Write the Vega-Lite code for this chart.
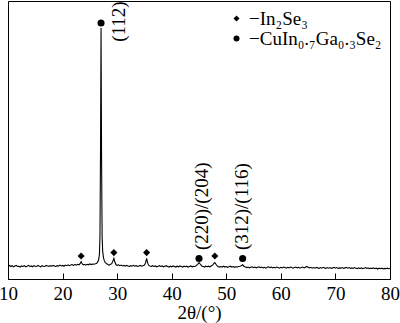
{
  "$schema": "https://vega.github.io/schema/vega-lite/v6.json",
  "width": 382,
  "height": 278,
  "autosize": {"type": "none"},
  "padding": {"left": 8, "top": 1, "right": 10, "bottom": 44},
  "background": "white",
  "config": {
    "view": {"stroke": "black", "strokeWidth": 1},
    "font": "Liberation Serif"
  },
  "datasets": {
    "pattern": [
      {"x":10.0,"y":4.6},{"x":10.25,"y":4.9},{"x":10.5,"y":4.5},{"x":10.75,"y":4.8},{"x":11.0,"y":4.4},{"x":11.25,"y":4.7},{"x":11.5,"y":4.9},{"x":11.75,"y":4.5},
      {"x":12.0,"y":4.6},{"x":12.25,"y":4.3},{"x":12.5,"y":4.7},{"x":12.75,"y":4.5},{"x":13.0,"y":4.8},{"x":13.25,"y":4.4},{"x":13.5,"y":4.6},{"x":13.75,"y":4.9},
      {"x":14.0,"y":4.5},{"x":14.25,"y":4.7},{"x":14.5,"y":4.4},{"x":14.75,"y":4.8},{"x":15.0,"y":4.6},{"x":15.25,"y":4.5},{"x":15.5,"y":4.9},{"x":15.75,"y":4.6},
      {"x":16.0,"y":4.4},{"x":16.25,"y":4.8},{"x":16.5,"y":4.6},{"x":16.75,"y":4.5},{"x":17.0,"y":4.9},{"x":17.25,"y":4.7},{"x":17.5,"y":4.5},{"x":17.75,"y":4.8},
      {"x":18.0,"y":4.6},{"x":18.25,"y":4.9},{"x":18.5,"y":4.7},{"x":18.75,"y":4.5},{"x":19.0,"y":4.8},{"x":19.25,"y":4.6},{"x":19.5,"y":5.0},{"x":19.75,"y":4.7},
      {"x":20.0,"y":4.9},{"x":20.25,"y":4.6},{"x":20.5,"y":5.0},{"x":20.75,"y":4.8},{"x":21.0,"y":5.1},{"x":21.25,"y":4.8},{"x":21.5,"y":5.0},{"x":21.75,"y":5.2},
      {"x":22.0,"y":4.9},{"x":22.25,"y":5.2},{"x":22.5,"y":5.0},{"x":22.75,"y":5.3},{"x":23.0,"y":5.1},{"x":23.2,"y":5.5},{"x":23.4,"y":6.2},{"x":23.6,"y":5.4},
      {"x":23.8,"y":5.1},{"x":24.0,"y":5.3},{"x":24.25,"y":5.0},{"x":24.5,"y":5.3},{"x":24.75,"y":5.1},{"x":25.0,"y":5.4},{"x":25.25,"y":5.2},{"x":25.5,"y":5.4},
      {"x":25.75,"y":5.3},{"x":26.0,"y":5.5},{"x":26.2,"y":5.6},{"x":26.4,"y":6.0},{"x":26.6,"y":6.8},{"x":26.75,"y":8.8},{"x":26.85,"y":15},{"x":26.95,"y":45},
      {"x":27.05,"y":90.3},{"x":27.15,"y":42},{"x":27.25,"y":15},{"x":27.35,"y":10},{"x":27.5,"y":7.6},{"x":27.65,"y":6.6},{"x":27.8,"y":6.0},{"x":28.0,"y":5.6},
      {"x":28.25,"y":5.3},{"x":28.5,"y":5.0},{"x":28.75,"y":5.2},{"x":29.0,"y":5.5},{"x":29.2,"y":6.3},{"x":29.4,"y":7.4},{"x":29.6,"y":6.0},{"x":29.8,"y":5.1},
      {"x":30.0,"y":4.9},{"x":30.25,"y":5.1},{"x":30.5,"y":4.8},{"x":30.75,"y":5.0},{"x":31.0,"y":4.7},{"x":31.25,"y":4.9},{"x":31.5,"y":4.6},{"x":31.75,"y":4.9},
      {"x":32.0,"y":4.7},{"x":32.25,"y":4.5},{"x":32.5,"y":4.8},{"x":32.75,"y":4.6},{"x":33.0,"y":4.9},{"x":33.25,"y":4.6},{"x":33.5,"y":4.8},{"x":33.75,"y":4.5},
      {"x":34.0,"y":4.7},{"x":34.25,"y":4.9},{"x":34.5,"y":4.6},{"x":34.75,"y":4.8},{"x":35.0,"y":5.0},{"x":35.2,"y":5.8},{"x":35.4,"y":7.4},{"x":35.6,"y":5.7},
      {"x":35.8,"y":4.9},{"x":36.0,"y":4.7},{"x":36.25,"y":4.5},{"x":36.5,"y":4.8},{"x":36.75,"y":4.5},{"x":37.0,"y":4.7},{"x":37.25,"y":4.4},{"x":37.5,"y":4.6},
      {"x":37.75,"y":4.8},{"x":38.0,"y":4.5},{"x":38.25,"y":4.7},{"x":38.5,"y":4.4},{"x":38.75,"y":4.6},{"x":39.0,"y":4.8},{"x":39.25,"y":4.5},{"x":39.5,"y":4.3},
      {"x":39.75,"y":4.6},{"x":40.0,"y":4.4},{"x":40.25,"y":4.7},{"x":40.5,"y":4.5},{"x":40.75,"y":4.3},{"x":41.0,"y":4.6},{"x":41.25,"y":4.4},{"x":41.5,"y":4.7},
      {"x":41.75,"y":4.5},{"x":42.0,"y":4.3},{"x":42.25,"y":4.6},{"x":42.5,"y":4.4},{"x":42.75,"y":4.6},{"x":43.0,"y":4.3},{"x":43.25,"y":4.5},{"x":43.5,"y":4.7},
      {"x":43.75,"y":4.4},{"x":44.0,"y":4.6},{"x":44.25,"y":4.5},{"x":44.5,"y":4.8},{"x":44.75,"y":5.3},{"x":45.0,"y":5.9},{"x":45.25,"y":5.3},{"x":45.5,"y":4.7},
      {"x":45.75,"y":4.5},{"x":46.0,"y":4.3},{"x":46.25,"y":4.6},{"x":46.5,"y":4.4},{"x":46.75,"y":4.6},{"x":47.0,"y":4.4},{"x":47.25,"y":4.7},{"x":47.5,"y":5.0},
      {"x":47.7,"y":5.5},{"x":47.9,"y":5.9},{"x":48.1,"y":5.3},{"x":48.3,"y":4.8},{"x":48.5,"y":4.5},{"x":48.75,"y":4.3},{"x":49.0,"y":4.5},{"x":49.25,"y":4.3},
      {"x":49.5,"y":4.6},{"x":49.75,"y":4.3},{"x":50.0,"y":4.5},{"x":50.25,"y":4.2},{"x":50.5,"y":4.4},{"x":50.75,"y":4.6},{"x":51.0,"y":4.3},{"x":51.25,"y":4.5},
      {"x":51.5,"y":4.2},{"x":51.75,"y":4.4},{"x":52.0,"y":4.3},{"x":52.25,"y":4.5},{"x":52.5,"y":4.6},{"x":52.75,"y":4.8},{"x":53.0,"y":5.1},{"x":53.25,"y":4.6},
      {"x":53.5,"y":4.3},{"x":53.75,"y":4.1},{"x":54.0,"y":4.3},{"x":54.25,"y":4.0},{"x":54.5,"y":4.2},{"x":54.75,"y":4.4},{"x":55.0,"y":4.1},{"x":55.25,"y":4.3},
      {"x":55.5,"y":4.0},{"x":55.75,"y":4.2},{"x":56.0,"y":4.4},{"x":56.25,"y":4.1},{"x":56.5,"y":4.3},{"x":56.75,"y":4.0},{"x":57.0,"y":4.2},{"x":57.25,"y":3.9},
      {"x":57.5,"y":4.2},{"x":57.75,"y":4.4},{"x":58.0,"y":4.1},{"x":58.25,"y":4.3},{"x":58.5,"y":4.0},{"x":58.75,"y":4.2},{"x":59.0,"y":4.0},{"x":59.25,"y":4.3},
      {"x":59.5,"y":4.1},{"x":59.75,"y":3.9},{"x":60.0,"y":4.2},{"x":60.25,"y":4.0},{"x":60.5,"y":4.3},{"x":60.75,"y":4.1},{"x":61.0,"y":3.9},{"x":61.25,"y":4.2},
      {"x":61.5,"y":4.0},{"x":61.75,"y":4.3},{"x":62.0,"y":4.1},{"x":62.25,"y":3.9},{"x":62.5,"y":4.1},{"x":62.75,"y":4.3},{"x":63.0,"y":4.0},{"x":63.25,"y":4.2},
      {"x":63.5,"y":3.9},{"x":63.75,"y":4.1},{"x":64.0,"y":4.3},{"x":64.25,"y":4.0},{"x":64.5,"y":4.2},{"x":64.75,"y":4.5},{"x":65.0,"y":4.2},{"x":65.25,"y":4.0},
      {"x":65.5,"y":4.2},{"x":65.75,"y":3.9},{"x":66.0,"y":4.1},{"x":66.25,"y":3.9},{"x":66.5,"y":4.2},{"x":66.75,"y":4.0},{"x":67.0,"y":3.8},{"x":67.25,"y":4.1},
      {"x":67.5,"y":3.9},{"x":67.75,"y":4.2},{"x":68.0,"y":4.0},{"x":68.25,"y":3.8},{"x":68.5,"y":4.1},{"x":68.75,"y":3.9},{"x":69.0,"y":4.1},{"x":69.25,"y":3.8},
      {"x":69.5,"y":4.0},{"x":69.75,"y":4.2},{"x":70.0,"y":3.9},{"x":70.25,"y":4.1},{"x":70.5,"y":3.8},{"x":70.75,"y":4.0},{"x":71.0,"y":3.9},{"x":71.25,"y":4.1},
      {"x":71.5,"y":3.8},{"x":71.75,"y":4.0},{"x":72.0,"y":4.2},{"x":72.25,"y":3.9},{"x":72.5,"y":4.1},{"x":72.75,"y":3.8},{"x":73.0,"y":4.0},{"x":73.25,"y":3.8},
      {"x":73.5,"y":4.1},{"x":73.75,"y":3.9},{"x":74.0,"y":3.7},{"x":74.25,"y":4.0},{"x":74.5,"y":3.8},{"x":74.75,"y":4.0},{"x":75.0,"y":3.7},{"x":75.25,"y":3.9},
      {"x":75.5,"y":4.1},{"x":75.75,"y":3.8},{"x":76.0,"y":4.0},{"x":76.25,"y":3.7},{"x":76.5,"y":3.9},{"x":76.75,"y":3.8},{"x":77.0,"y":4.0},{"x":77.25,"y":3.7},
      {"x":77.5,"y":3.9},{"x":77.75,"y":3.6},{"x":78.0,"y":3.9},{"x":78.25,"y":3.7},{"x":78.5,"y":3.9},{"x":78.75,"y":3.6},{"x":79.0,"y":3.8},{"x":79.25,"y":3.7},
      {"x":79.5,"y":3.9},{"x":79.75,"y":3.7},{"x":80.0,"y":3.8}
    ],
    "markers": [
      {"x":23.4,"y":8.3,"phase":"In₂Se₃"},
      {"x":29.4,"y":9.5,"phase":"In₂Se₃"},
      {"x":35.4,"y":9.5,"phase":"In₂Se₃"},
      {"x":47.9,"y":8.3,"phase":"In₂Se₃"},
      {"x":27.05,"y":92.1,"phase":"CuIn₀.₇Ga₀.₃Se₂"},
      {"x":45.0,"y":7.4,"phase":"CuIn₀.₇Ga₀.₃Se₂"},
      {"x":53.0,"y":7.4,"phase":"CuIn₀.₇Ga₀.₃Se₂"}
    ],
    "labels": [
      {"x":30.4,"y":85.3,"text":"(112)"},
      {"x":45.5,"y":10.4,"text":"(220)/(204)"},
      {"x":52.8,"y":10.4,"text":"(312)/(116)"}
    ]
  },
  "layer": [
    {
      "data": {"name": "pattern"},
      "mark": {"type": "line", "color": "black", "strokeWidth": 1.1, "clip": true},
      "encoding": {
        "x": {
          "field": "x", "type": "quantitative",
          "scale": {"domain": [10, 80], "nice": false, "zero": false},
          "axis": {
            "values": [10, 20, 30, 40, 50, 60, 70, 80],
            "title": "2θ/(°)",
            "grid": false,
            "tickSize": -6,
            "tickColor": "black",
            "domainColor": "black",
            "labelFont": "Liberation Serif",
            "labelFontSize": 19,
            "labelColor": "black",
            "labelPadding": 11,
            "labelFlush": false,
            "titleFont": "Liberation Serif",
            "titleFontSize": 19,
            "titleFontWeight": "normal",
            "titleColor": "black",
            "titlePadding": 0
          }
        },
        "y": {
          "field": "y", "type": "quantitative",
          "scale": {"domain": [0, 100], "nice": false},
          "axis": null
        }
      }
    },
    {
      "data": {"name": "markers"},
      "mark": {"type": "point", "filled": true, "color": "black", "opacity": 1, "size": 50},
      "encoding": {
        "x": {"field": "x", "type": "quantitative"},
        "y": {"field": "y", "type": "quantitative"},
        "shape": {
          "field": "phase", "type": "nominal",
          "scale": {"domain": ["In₂Se₃", "CuIn₀.₇Ga₀.₃Se₂"], "range": ["diamond", "circle"]},
          "legend": {
            "title": null,
            "orient": "none",
            "legendX": 219,
            "legendY": 8,
            "padding": 0,
            "symbolSize": 36,
            "symbolFillColor": "black",
            "symbolStrokeWidth": 0,
            "labelExpr": "'−' + datum.label",
            "labelFont": "Liberation Serif",
            "labelFontSize": 19,
            "labelColor": "black",
            "labelOffset": 3,
            "labelLimit": 300,
            "rowPadding": 0
          }
        }
      }
    },
    {
      "data": {"name": "labels"},
      "mark": {"type": "text", "angle": 270, "align": "left", "baseline": "middle", "font": "Liberation Serif", "fontSize": 19, "color": "black"},
      "encoding": {
        "x": {"field": "x", "type": "quantitative"},
        "y": {"field": "y", "type": "quantitative"},
        "text": {"field": "text"}
      }
    }
  ]
}
